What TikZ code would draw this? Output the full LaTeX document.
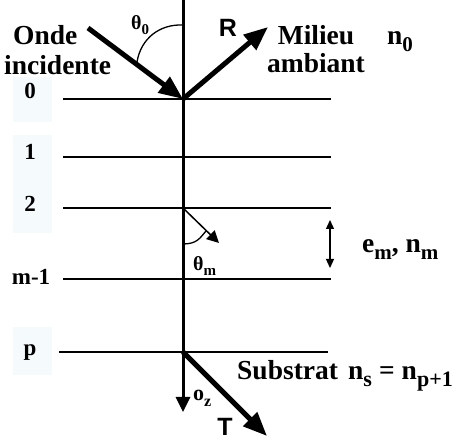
\documentclass[tikz,border=0pt]{standalone}
\usepackage{fontspec}
\setmainfont{Liberation Serif}
\setsansfont{Liberation Sans}
\usetikzlibrary{arrows.meta}
\newcommand\lsub[2]{\raisebox{-0.25em}{\fontsize{#1}{#1}\selectfont #2}}
\definecolor{palebg}{RGB}{245,250,253}
\tikzset{
  lbl/.style={font=\fontsize{27.5}{30}\selectfont\bfseries, inner sep=0pt, anchor=base west},
  lblc/.style={font=\fontsize{27.5}{30}\selectfont\bfseries, inner sep=0pt, anchor=base},
  num/.style={font=\fontsize{23}{26}\selectfont\bfseries, inner sep=0pt},
  greek/.style={font=\fontsize{20}{22}\selectfont\bfseries, inner sep=0pt, anchor=base west},
  rt/.style={font=\fontsize{25}{28}\selectfont\sffamily\bfseries, inner sep=0pt, anchor=base},
  layer/.style={line width=1.8pt},
  axisline/.style={line width=3pt, -{Triangle[length=15pt,width=14pt]}},
  bigarrow/.style={line width=5pt, -{Triangle[length=24pt,width=19pt]}},
  smallarrow/.style={line width=1.5pt, -{Triangle[length=12pt,width=12pt]}},
  dblarrow/.style={line width=1.3pt, {Triangle[length=9pt,width=8pt]}-{Triangle[length=9pt,width=8pt]}},
  arcline/.style={line width=1.3pt},
  pale/.style={fill=palebg, draw=none}
}
\begin{document}
\begin{tikzpicture}[x=1pt,y=-1pt]
\useasboundingbox (0,0) rectangle (461,443);
% pale label backgrounds
\fill[pale] (13,77) rectangle (52,122);
\fill[pale] (13,135) rectangle (52,233);
\fill[pale] (13,327) rectangle (52,375);
% key points
\coordinate (top) at (183,0);
\coordinate (bot) at (183,412);
\coordinate (O0) at (183,99);
\coordinate (O2) at (183,208);
\coordinate (Op) at (183,352);
\coordinate (inc) at (88,28);
\coordinate (Rtip) at (268,27);
\coordinate (Ttip) at (267,436);
\coordinate (mtip) at (219,243);
\coordinate (dA) at (330,220);
\coordinate (dB) at (330,268);
\coordinate (L0a) at (63,99);   \coordinate (L0b) at (331,99);
\coordinate (L1a) at (63,157);  \coordinate (L1b) at (331,157);
\coordinate (L2a) at (63,208);  \coordinate (L2b) at (331,208);
\coordinate (Lma) at (63,279);  \coordinate (Lmb) at (331,279);
\coordinate (Lpa) at (59,352);  \coordinate (Lpb) at (328,352);
% layers
\draw[layer] (L0a) -- (L0b);
\draw[layer] (L1a) -- (L1b);
\draw[layer] (L2a) -- (L2b);
\draw[layer] (Lma) -- (Lmb);
\draw[layer] (Lpa) -- (Lpb);
% axis
\draw[axisline] (top) -- (bot);
% arrows
\draw[bigarrow] (inc) -- (O0);
\draw[bigarrow] (O0) -- (Rtip);
\draw[bigarrow] (Op) -- (Ttip);
\draw[smallarrow] (O2) -- (mtip);
\draw[dblarrow] (dA) -- (dB);
% angle arcs
\draw[arcline] (137,62) .. controls (141,38) and (160,24) .. (183,25);
\draw[arcline] (183,244) .. controls (197,244) and (200,238) .. (206,231);
% labels
\node[lbl] (onde) at (13,45) {Onde};
\node[lbl] (incid) at (4,75) {incidente};
\node[lblc] (milieu) at (316,45) {Milieu};
\node[lblc] (ambiant) at (316,73) {ambiant};
\node[lbl] (n0) at (387,45) {n\lsub{21}{0}};
\node[lbl] (emnm) at (362,253) {e\lsub{21}{m}, n\lsub{21}{m}};
\node[lbl] (subs) at (237,380) {Substrat};
\node[lbl] (ns) at (348,380) {n\lsub{22}{s}\hspace{7pt}=\hspace{7pt}n\lsub{22}{p+1}};
\node[greek] (th0) at (131,30) {θ\lsub{15}{0}};
\node[greek] (thm) at (193,271) {θ\lsub{15}{m}};
\node[greek, font=\fontsize{22}{24}\selectfont\bfseries] (oz) at (193,401) {o\lsub{16}{z}};
\node[rt] (R) at (228,37) {R};
\node[rt] (T) at (225,436) {T};
\node[num] (l0) at (30,91) {0};
\node[num] (l1) at (30,152) {1};
\node[num] (l2) at (30,204) {2};
\node[num] (lm) at (31,277) {m-1};
\node[num, anchor=base] (lp) at (30,356) {p};
\end{tikzpicture}
\end{document}
